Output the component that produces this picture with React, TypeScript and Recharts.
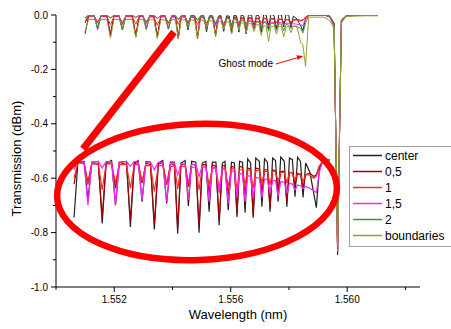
import React from 'react';
import { ComposedChart, Line, XAxis, YAxis, Label } from 'recharts';

// Wavelength grid (nm): each comb dip is sampled as shoulder / bottom / shoulder
const wavelength = [
  1.55100, 1.55112,
  1.55131, 1.55143, 1.55155,
  1.55175, 1.55187, 1.55199,
  1.55216, 1.55228, 1.55240,
  1.55262, 1.55274, 1.55286,
  1.55298, 1.55310, 1.55322,
  1.55336, 1.55348, 1.55360,
  1.55374, 1.55386, 1.55398,
  1.55410, 1.55420, 1.55430,
  1.55443, 1.55453, 1.55463,
  1.55476, 1.55486, 1.55496,
  1.55507, 1.55517, 1.55527,
  1.55538, 1.55548, 1.55558,
  1.55566, 1.55576, 1.55586,
  1.55595, 1.55603, 1.55611,
  1.55620, 1.55628, 1.55636,
  1.55645, 1.55653, 1.55661,
  1.55672, 1.55680, 1.55688,
  1.55697, 1.55705, 1.55713,
  1.55722, 1.55730, 1.55738,
  1.55749, 1.55757, 1.55765,
  1.55774, 1.55782, 1.55790,
  1.55799, 1.55807, 1.55815,
  1.55828, 1.55840, 1.55848, 1.55857, 1.55868, 1.55890, 1.55920, 1.55940,
  1.55955, 1.55967, 1.55980, 1.55995, 1.56030, 1.56060, 1.56105,
];

const center = [
  -0.069, -0.003,
  -0.002, -0.048, -0.003,
  -0.002, -0.076, -0.004,
  -0.001, -0.054, -0.003,
  -0.002, -0.080, -0.004,
  -0.001, -0.050, -0.002,
  -0.003, -0.083, -0.004,
  -0.001, -0.052, -0.003,
  -0.003, -0.088, -0.004,
  -0.001, -0.055, -0.002,
  -0.003, -0.087, -0.004,
  -0.002, -0.062, -0.003,
  -0.003, -0.078, -0.004,
  -0.002, -0.060, -0.003,
  -0.004, -0.068, -0.002,
  -0.003, -0.063, 0.001,
  -0.004, -0.069, 0.002,
  -0.002, -0.056, 0.001,
  -0.003, -0.062, 0.002,
  -0.001, -0.050, 0.003,
  -0.002, -0.056, 0.002,
  0.000, -0.044, 0.003,
  -0.002, -0.045, -0.004,
  -0.015, -0.040, -0.057, -0.012, 0.001, 0.000, 0.000, -0.004,
  -0.030, -0.882, -0.020, -0.004, 0.000, 0.000, 0.000,
];

const s05 = [
  -0.029, -0.003,
  -0.004, -0.027, -0.004,
  -0.006, -0.068, -0.005,
  -0.004, -0.034, -0.003,
  -0.006, -0.072, -0.005,
  -0.003, -0.028, -0.004,
  -0.006, -0.077, -0.005,
  -0.004, -0.030, -0.004,
  -0.007, -0.082, -0.006,
  -0.005, -0.032, -0.005,
  -0.007, -0.080, -0.006,
  -0.006, -0.040, -0.006,
  -0.008, -0.072, -0.007,
  -0.007, -0.042, -0.008,
  -0.009, -0.064, -0.008,
  -0.009, -0.045, -0.010,
  -0.011, -0.066, -0.010,
  -0.011, -0.040, -0.012,
  -0.012, -0.058, -0.012,
  -0.013, -0.036, -0.014,
  -0.014, -0.050, -0.015,
  -0.016, -0.030, -0.017,
  -0.018, -0.035, -0.018,
  -0.016, -0.020, -0.018, -0.008, -0.002, 0.000, 0.000, -0.005,
  -0.034, -0.876, -0.022, -0.005, 0.000, 0.000, 0.000,
];

const s1 = [
  -0.022, -0.004,
  -0.004, -0.030, -0.005,
  -0.005, -0.036, -0.005,
  -0.005, -0.028, -0.006,
  -0.006, -0.034, -0.006,
  -0.006, -0.026, -0.007,
  -0.007, -0.038, -0.007,
  -0.007, -0.030, -0.008,
  -0.008, -0.035, -0.008,
  -0.008, -0.028, -0.009,
  -0.009, -0.036, -0.009,
  -0.009, -0.030, -0.010,
  -0.010, -0.034, -0.010,
  -0.010, -0.032, -0.011,
  -0.011, -0.036, -0.012,
  -0.012, -0.030, -0.012,
  -0.013, -0.034, -0.013,
  -0.013, -0.028, -0.014,
  -0.014, -0.030, -0.014,
  -0.014, -0.026, -0.015,
  -0.015, -0.028, -0.015,
  -0.016, -0.024, -0.016,
  -0.017, -0.026, -0.018,
  -0.018, -0.022, -0.020, -0.008, -0.002, 0.000, 0.000, -0.006,
  -0.040, -0.870, -0.024, -0.005, 0.000, 0.000, 0.000,
];

const s15 = [
  -0.012, -0.002,
  -0.003, -0.054, -0.003,
  -0.002, -0.010, -0.002,
  -0.003, -0.054, -0.003,
  -0.002, -0.008, -0.002,
  -0.003, -0.048, -0.003,
  -0.003, -0.012, -0.003,
  -0.004, -0.050, -0.004,
  -0.004, -0.018, -0.005,
  -0.005, -0.048, -0.006,
  -0.006, -0.020, -0.007,
  -0.008, -0.050, -0.009,
  -0.010, -0.040, -0.011,
  -0.012, -0.052, -0.013,
  -0.015, -0.045, -0.016,
  -0.018, -0.050, -0.019,
  -0.020, -0.046, -0.021,
  -0.022, -0.045, -0.023,
  -0.024, -0.040, -0.025,
  -0.025, -0.044, -0.026,
  -0.027, -0.040, -0.028,
  -0.029, -0.036, -0.030,
  -0.031, -0.034, -0.032,
  -0.034, -0.037, -0.039, -0.015, -0.002, 0.000, 0.000, -0.008,
  -0.042, -0.865, -0.025, -0.006, 0.000, 0.000, 0.000,
];

const s2 = [
  -0.010, 0.000,
  0.000, -0.052, 0.000,
  0.000, -0.012, 0.000,
  0.000, -0.055, 0.000,
  0.000, -0.010, 0.000,
  0.000, -0.054, 0.000,
  0.000, -0.014, -0.001,
  -0.001, -0.050, -0.001,
  -0.002, -0.016, -0.002,
  -0.002, -0.048, -0.003,
  -0.003, -0.018, -0.004,
  -0.004, -0.050, -0.005,
  -0.006, -0.030, -0.007,
  -0.009, -0.052, -0.010,
  -0.013, -0.040, -0.014,
  -0.017, -0.050, -0.018,
  -0.021, -0.045, -0.022,
  -0.024, -0.055, -0.025,
  -0.027, -0.050, -0.028,
  -0.029, -0.060, -0.030,
  -0.031, -0.055, -0.032,
  -0.034, -0.058, -0.035,
  -0.037, -0.050, -0.040,
  -0.042, -0.050, -0.066, -0.030, 0.000, 0.000, 0.000, -0.006,
  -0.030, -0.860, -0.018, -0.004, 0.000, 0.000, 0.000,
];

const boundaries = [
  -0.060, -0.016,
  -0.017, -0.030, -0.016,
  -0.017, -0.085, -0.016,
  -0.017, -0.035, -0.017,
  -0.016, -0.082, -0.016,
  -0.017, -0.032, -0.018,
  -0.017, -0.086, -0.017,
  -0.018, -0.035, -0.018,
  -0.017, -0.088, -0.017,
  -0.018, -0.038, -0.018,
  -0.019, -0.085, -0.019,
  -0.020, -0.042, -0.020,
  -0.022, -0.075, -0.022,
  -0.024, -0.050, -0.024,
  -0.026, -0.070, -0.026,
  -0.028, -0.055, -0.028,
  -0.030, -0.065, -0.031,
  -0.033, -0.060, -0.035,
  -0.037, -0.075, -0.039,
  -0.042, -0.097, -0.044,
  -0.040, -0.070, -0.040,
  -0.043, -0.080, -0.045,
  -0.042, -0.065, -0.040,
  -0.045, -0.100, -0.110, -0.189, -0.008, -0.008, -0.008, -0.020,
  -0.050, -0.850, -0.030, -0.006, -0.004, -0.003, -0.003,
];

const legendNames = ['center', '0,5', '1', '1,5', '2', 'boundaries'];
const xTicks = [1.550, 1.552, 1.554, 1.556, 1.558, 1.560, 1.562];
const yTicks = [0, -0.1, -0.2, -0.3, -0.4, -0.5, -0.6, -0.7, -0.8, -0.9, -1.0];
const insetSeries = ['center', 's05', 's1', 's15'];
const insetLimit = 1.5589;

const FONT = "Arial, 'Liberation Sans', sans-serif";

const series = [
  { key: 'center', values: center, color: '#222222' },
  { key: 's05', values: s05, color: '#a80000' },
  { key: 's1', values: s1, color: '#ff2a2a' },
  { key: 's15', values: s15, color: '#ff22ff' },
  { key: 's2', values: s2, color: '#349a34' },
  { key: 'boundaries', values: boundaries, color: '#9c9c34' },
];

const rows = wavelength.map((w, i) => {
  const r: any = { w };
  series.forEach((s) => {
    r[s.key] = s.values[i];
  });
  return r;
});
const insetRows = rows.filter((r) => r.w <= insetLimit);

const YTick = (props: any) => {
  const { x, y, payload } = props;
  const v = payload.value as number;
  const major = Math.round(v * 10) % 2 === 0;
  return (
    <g>
      <line x1={x} x2={x - (major ? 5 : 3)} y1={y} y2={y} stroke="#000" strokeWidth={1} />
      {major && (
        <text x={x - 8} y={y} dy="0.35em" textAnchor="end" fontSize={10} fontFamily={FONT} fill="#000">
          {v.toFixed(1)}
        </text>
      )}
    </g>
  );
};

const XTick = (props: any) => {
  const { x, y, payload } = props;
  const v = payload.value as number;
  const major = Math.round(v * 1000) % 4 === 0;
  return (
    <g>
      <line x1={x} x2={x} y1={y} y2={y + (major ? 5 : 3)} stroke="#000" strokeWidth={1} />
      {major && (
        <text x={x} y={y + 16} textAnchor="middle" fontSize={10} fontFamily={FONT} fill="#000">
          {v.toFixed(3)}
        </text>
      )}
    </g>
  );
};

export default function App() {
  const W = 451;
  const H = 329;
  const legendRowY = [155.5, 171.5, 187.5, 203.5, 219.5, 235.5];
  return (
    <div style={{ position: 'absolute', left: 0, top: 0, width: W, height: H, background: '#fff' }}>
      <ComposedChart width={W} height={H} data={rows} margin={{ top: 15, right: 31, bottom: 0, left: 0 }}>
        <XAxis
          xAxisId="main"
          dataKey="w"
          type="number"
          domain={[1.55, 1.5625]}
          ticks={xTicks}
          interval={0}
          allowDataOverflow
          height={42}
          tickSize={0}
          tickMargin={0}
          tickLine={false}
          axisLine={{ stroke: '#000' }}
          tick={XTick}
        >
          <Label
            content={() => (
              <text x={238} y={318.5} textAnchor="middle" fontSize={13} fontFamily={FONT} fill="#000">
                Wavelength (nm)
              </text>
            )}
          />
        </XAxis>
        <YAxis
          yAxisId="main"
          type="number"
          domain={[-1, 0]}
          ticks={yTicks}
          interval={0}
          allowDataOverflow
          width={56}
          tickSize={0}
          tickMargin={0}
          tickLine={false}
          axisLine={{ stroke: '#000' }}
          tick={YTick}
        >
          <Label
            content={() => (
              <text
                x={20.5}
                y={158.5}
                transform="rotate(-90 20.5 158.5)"
                textAnchor="middle"
                fontSize={13}
                fontFamily={FONT}
                fill="#000"
              >
                Transmission (dBm)
              </text>
            )}
          />
        </YAxis>
        <XAxis
          xAxisId="inset"
          dataKey="w"
          type="number"
          orientation="top"
          height={0}
          hide
          domain={[1.550444, 1.561679]}
          allowDataOverflow
        />
        <YAxis
          yAxisId="inset"
          type="number"
          orientation="right"
          width={0}
          hide
          domain={[-0.1514, 0.172]}
          allowDataOverflow
        />
        {series.map((s) => (
          <Line
            key={'m-' + s.key}
            xAxisId="main"
            yAxisId="main"
            dataKey={s.key}
            type="linear"
            stroke={s.color}
            strokeWidth={1}
            dot={false}
            activeDot={false}
            isAnimationActive={false}
          />
        ))}
        {series
          .filter((s) => insetSeries.includes(s.key))
          .map((s) => (
            <Line
              key={'i-' + s.key}
              xAxisId="inset"
              yAxisId="inset"
              data={insetRows}
              dataKey={s.key}
              type="linear"
              stroke={s.color}
              strokeWidth={1.2}
              dot={false}
              activeDot={false}
              isAnimationActive={false}
            />
          ))}
      </ComposedChart>
      <svg
        width={W}
        height={H}
        style={{ position: 'absolute', left: 0, top: 0, pointerEvents: 'none' }}
      >
        <line x1={174} y1={32} x2={83} y2={149} stroke="#ff0000" strokeWidth={7} />
        <ellipse
          cx={197}
          cy={192}
          rx={140}
          ry={68}
          transform="rotate(-2 197 192)"
          fill="none"
          stroke="#ff0000"
          strokeWidth={6.5}
        />
        <text x={273} y={67} textAnchor="end" fontSize={10} fontFamily={FONT} fill="#000">
          Ghost mode
        </text>
        <line x1={276} y1={64} x2={298} y2={57.5} stroke="#ff0000" strokeWidth={1} />
        <polygon points="303,56 297.9,60.1 296.5,55.3" fill="#ff0000" />
        <rect x={349.5} y={146.5} width={110} height={100} fill="#fff" stroke="#a0a0a0" strokeWidth={1} />
        {legendNames.map((name, i) => (
          <g key={name}>
            <line
              x1={353}
              x2={382}
              y1={legendRowY[i]}
              y2={legendRowY[i]}
              stroke={series[i].color}
              strokeWidth={1.5}
            />
            <text x={385} y={legendRowY[i] + 4.5} fontSize={12} fontFamily={FONT} fill="#000">
              {name}
            </text>
          </g>
        ))}
      </svg>
    </div>
  );
}
